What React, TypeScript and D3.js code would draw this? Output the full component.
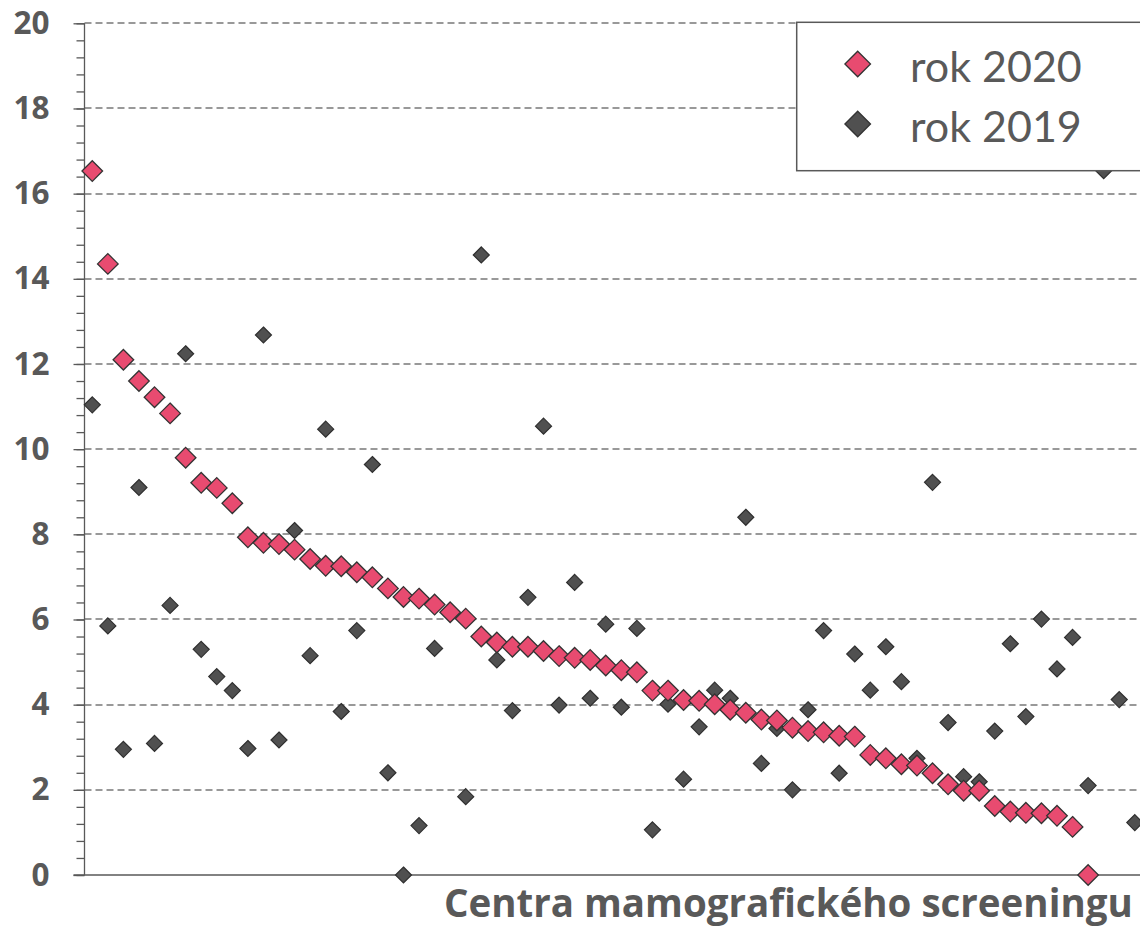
import React, { useEffect, useRef } from "react";
import * as d3 from "d3";

// values, one entry per screening centre (sorted by 2020)
const rok2020: (number | null)[] = [
  16.53, 14.35, 12.1, 11.6, 11.22, 10.84, 9.8, 9.21, 9.09, 8.73,
  7.93, 7.8, 7.77, 7.64, 7.42, 7.26, 7.25, 7.11, 6.99, 6.73,
  6.53, 6.49, 6.35, 6.17, 6.02, 5.6, 5.46, 5.36, 5.36, 5.26,
  5.14, 5.1, 5.05, 4.92, 4.81, 4.76, 4.33, 4.33, 4.11, 4.09,
  4.01, 3.88, 3.81, 3.65, 3.63, 3.46, 3.38, 3.35, 3.27, 3.25,
  2.82, 2.74, 2.6, 2.57, 2.39, 2.13, 1.98, 1.98, 1.62, 1.49,
  1.46, 1.45, 1.39, 1.13, 0, null, null, null,
];

const rok2019: (number | null)[] = [
  11.04, 5.85, 2.95, 9.1, 3.09, 6.33, 12.24, 5.3, 4.66, 4.33,
  2.97, 12.68, 3.17, 8.09, 5.15, 10.47, 3.84, 5.74, 9.64, 2.4,
  0, 1.16, 5.32, 6.15, 1.84, 14.56, 5.05, 3.86, 6.52, 10.54,
  3.99, 6.87, 4.15, 5.89, 3.94, 5.79, 1.06, 4.01, 2.25, 3.48,
  4.34, 4.15, 8.4, 2.62, 3.44, 2.0, 3.88, 5.74, 2.39, 5.19,
  4.34, 5.36, 4.54, 2.74, 9.22, 3.58, 2.31, 2.19, 3.38, 5.43,
  3.72, 6.01, 4.84, 5.58, 2.1, 16.54, 4.12, 1.23,
];

const centra = rok2019.map((_, i) => String(i + 1));
const yTicks = [0, 2, 4, 6, 8, 10, 12, 14, 16, 18, 20];
const legendLabels = ["rok 2020", "rok 2019"];
const xTitle = "Centra mamografického screeningu";

const PINK = "#E84B70";
const DARK = "#505050";
const GREY_TEXT = "#595959";

const diamond = (r: number) => `M0,${-r}L${r},0L0,${r}L${-r},0Z`;

export default function App() {
  const svgRef = useRef<SVGSVGElement>(null);

  useEffect(() => {
    if (!svgRef.current) return;
    const width = 1140;
    const height = 927;
    const left = 84.5;
    const step = 15.56;

    const svg = d3.select(svgRef.current);
    svg.selectAll("*").remove();

    const x = d3
      .scaleBand<string>()
      .domain(centra)
      .range([left, left + step * centra.length]);
    const y = d3.scaleLinear().domain([0, 20]).range([875, 23.3]);
    const cx = (i: number) => (x(centra[i]) as number) + x.bandwidth() / 2;

    // dashed gridlines
    svg
      .append("g")
      .selectAll("line")
      .data(yTicks.filter((t) => t > 0))
      .join("line")
      .attr("x1", left)
      .attr("x2", width)
      .attr("y1", (d) => Math.round(y(d)))
      .attr("y2", (d) => Math.round(y(d)))
      .attr("stroke", "#999999")
      .attr("stroke-width", 2)
      .attr("stroke-dasharray", "7,4");

    // y axis: minor ticks every 0.4, major every 2
    const axis = svg.append("g").attr("transform", `translate(${left},0)`);
    axis
      .call(
        d3
          .axisLeft(y)
          .tickValues(d3.range(0, 20.01, 0.4))
          .tickSize(8)
          .tickFormat(() => "")
      )
      .call((g) => g.select(".domain").remove());
    axis
      .selectAll("line")
      .attr("stroke", GREY_TEXT)
      .attr("stroke-width", 1.3);
    axis.selectAll("text").remove();

    const major = svg.append("g").attr("transform", `translate(${left},0)`);
    major
      .call(d3.axisLeft(y).tickValues(yTicks).tickSize(11).tickPadding(24))
      .call((g) => g.select(".domain").remove());
    major.selectAll("line").attr("stroke", GREY_TEXT).attr("stroke-width", 1.3);
    major
      .selectAll("text")
      .attr("fill", GREY_TEXT)
      .attr("font-family", "'Open Sans', sans-serif")
      .attr("font-weight", 700)
      .attr("font-size", 31.5);

    svg
      .append("line")
      .attr("x1", left)
      .attr("x2", left)
      .attr("y1", y(20))
      .attr("y2", y(0))
      .attr("stroke", GREY_TEXT)
      .attr("stroke-width", 1.3);
    svg
      .append("line")
      .attr("x1", left - 11)
      .attr("x2", width)
      .attr("y1", y(0))
      .attr("y2", y(0))
      .attr("stroke", GREY_TEXT)
      .attr("stroke-width", 1.3);

    const pts = (arr: (number | null)[]) =>
      arr
        .map((v, i) => ({ v, i }))
        .filter((d) => d.v !== null) as { v: number; i: number }[];

    svg
      .append("g")
      .selectAll("path")
      .data(pts(rok2019))
      .join("path")
      .attr("d", diamond(8))
      .attr("transform", (d) => `translate(${cx(d.i)},${y(d.v)})`)
      .attr("fill", DARK)
      .attr("stroke", "#2f2f2f")
      .attr("stroke-width", 1.2);

    svg
      .append("g")
      .selectAll("path")
      .data(pts(rok2020))
      .join("path")
      .attr("d", diamond(10.3))
      .attr("transform", (d) => `translate(${cx(d.i)},${y(d.v)})`)
      .attr("fill", PINK)
      .attr("stroke", "#333")
      .attr("stroke-width", 1.3);

    // legend
    const lg = svg.append("g");
    lg.append("rect")
      .attr("x", 796.7)
      .attr("y", 22.3)
      .attr("width", 400)
      .attr("height", 148.4)
      .attr("fill", "#fff")
      .attr("stroke", GREY_TEXT)
      .attr("stroke-width", 1.5);
    legendLabels.forEach((label, k) => {
      const cy = 64 + k * 60;
      lg.append("path")
        .attr("d", diamond(12.8))
        .attr("transform", `translate(857.7,${cy})`)
        .attr("fill", k === 0 ? PINK : DARK)
        .attr("stroke", "#333")
        .attr("stroke-width", 1.3);
      lg.append("text")
        .attr("x", 910)
        .attr("y", cy + 17.5)
        .attr("fill", GREY_TEXT)
        .attr("font-family", "Lato, sans-serif")
        .attr("font-size", 43)
        .text(label);
    });

    svg
      .append("text")
      .attr("x", 444)
      .attr("y", 917)
      .attr("fill", GREY_TEXT)
      .attr("font-family", "'Open Sans', sans-serif")
      .attr("font-weight", 700)
      .attr("font-size", 38.5)
      .text(xTitle);

    svg.attr("width", width).attr("height", height);
  }, []);

  return (
    <svg
      ref={svgRef}
      width={1140}
      height={927}
      style={{ position: "absolute", left: 0, top: 0, background: "#fff" }}
    />
  );
}
